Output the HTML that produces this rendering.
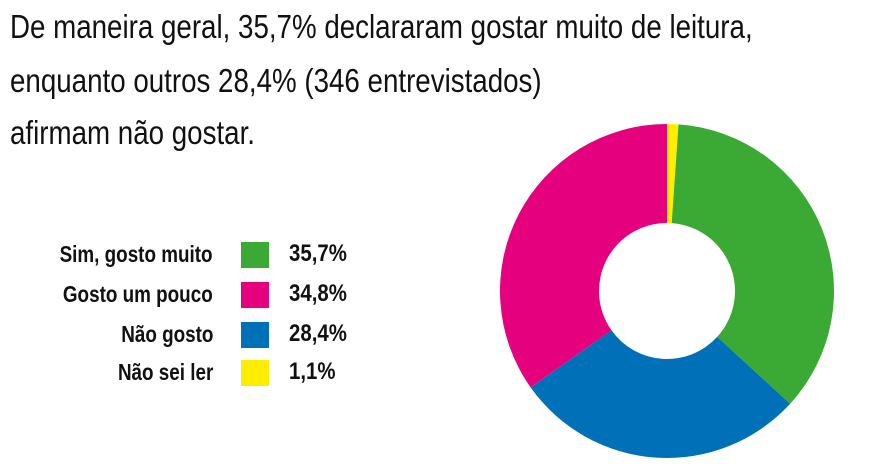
<!DOCTYPE html>
<html><head><meta charset="utf-8"><style>
body{margin:0;width:887px;height:467px;background:#fff;overflow:hidden;position:relative;font-family:"Liberation Sans",sans-serif;color:#111}
.t{position:absolute;left:10px;font-size:33px;white-space:nowrap;transform:scaleX(0.84);transform-origin:left top}
.lab{position:absolute;right:674px;font-size:23px;font-weight:bold;white-space:nowrap;transform:scaleX(0.82);transform-origin:right center}
.sq{position:absolute;left:241px;width:28px;height:26px}
.val{position:absolute;left:289px;font-size:24px;font-weight:bold;transform:scaleX(0.85);transform-origin:left center}
</style></head><body>
<div class="t" style="top:8px">De maneira geral, 35,7% declararam gostar muito de leitura,</div>
<div class="t" style="top:62px">enquanto outros 28,4% (346 entrevistados)</div>
<div class="t" style="top:114px">afirmam não gostar.</div>
<div id="legend"></div>
<svg id="chart" width="887" height="467" style="position:absolute;left:0;top:0"></svg>
<script>
const categories=["Sim, gosto muito","Gosto um pouco","Não gosto","Não sei ler"];
const values=[35.7,34.8,28.4,1.1];
const labels=["35,7%","34,8%","28,4%","1,1%"];
const colors=["#3aaa35","#e5007e","#0070b8","#ffed00"];
const drawOrder=[3,0,2,1];
const cx=667,cy=291,R=167,r=68;
const svg=document.getElementById('chart');
const total=values.reduce((a,b)=>a+b,0);
let a=0;
function pt(rad,ang){return [cx+rad*Math.sin(ang),cy-rad*Math.cos(ang)];}
drawOrder.forEach(i=>{
  const a0=a,a1=a+values[i]/total*2*Math.PI;a=a1;
  const big=(a1-a0)>Math.PI?1:0;
  const [x0,y0]=pt(R,a0),[x1,y1]=pt(R,a1),[x2,y2]=pt(r,a1),[x3,y3]=pt(r,a0);
  const p=document.createElementNS('http://www.w3.org/2000/svg','path');
  p.setAttribute('d',`M${x0},${y0}A${R},${R} 0 ${big} 1 ${x1},${y1}L${x2},${y2}A${r},${r} 0 ${big} 0 ${x3},${y3}Z`);
  p.setAttribute('fill',colors[i]);
  
  
  svg.appendChild(p);
});
const lg=document.getElementById('legend');
const rowY=[255,295,335,373];
categories.forEach((c,i)=>{
  const l=document.createElement('div');l.className='lab';l.style.top=(rowY[i]-14)+'px';l.textContent=c;
  
  
  const s=document.createElement('div');s.className='sq';s.style.top=(rowY[i]-13)+'px';s.style.background=colors[i];
  
  
  const v=document.createElement('div');v.className='val';v.style.top=(rowY[i]-15)+'px';v.textContent=labels[i];
  
  
  lg.append(l,s,v);
});
</script>
</body></html>
